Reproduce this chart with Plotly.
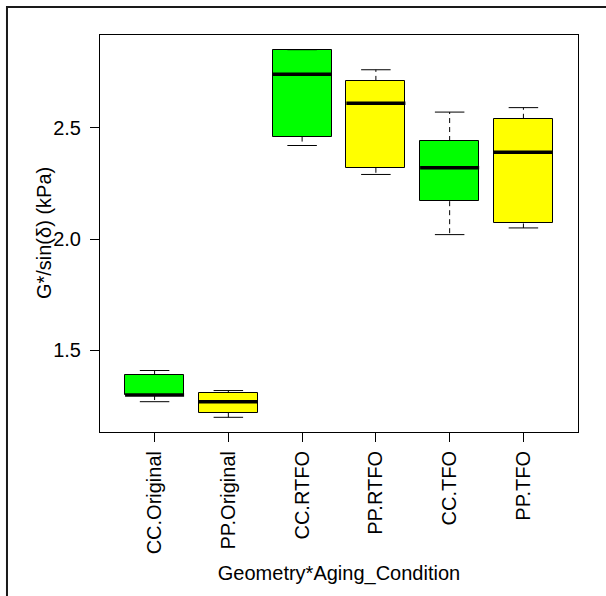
import plotly.graph_objects as go

# Group labels and five-number summaries (kPa)
categories = ["CC.Original", "PP.Original", "CC.RTFO", "PP.RTFO", "CC.TFO", "PP.TFO"]
whisker_low = [1.27, 1.20, 2.42, 2.29, 2.02, 2.05]
q1 = [1.30, 1.22, 2.46, 2.32, 2.17, 2.07]
median = [1.30, 1.27, 2.74, 2.61, 2.32, 2.39]
q3 = [1.39, 1.31, 2.85, 2.71, 2.44, 2.54]
whisker_high = [1.41, 1.32, 2.85, 2.76, 2.57, 2.59]
fill_colors = ["#00FF00", "#FFFF00", "#00FF00", "#FFFF00", "#00FF00", "#FFFF00"]
y_ticks = [1.5, 2.0, 2.5]
y_tick_text = ["1.5", "2.0", "2.5"]

positions = list(range(1, len(categories) + 1))
box_w = 0.8
cap_w = 0.4

FONT = "Liberation Sans, Arial, sans-serif"

fig = go.Figure()

# Boxes (Q1 to Q3)
fig.add_trace(go.Bar(
    x=positions,
    base=q1,
    y=[b - a for a, b in zip(q1, q3)],
    width=box_w,
    marker=dict(color=fill_colors, line=dict(color="black", width=1)),
    hoverinfo="skip",
    showlegend=False,
))

# Dashed whiskers
wx, wy = [], []
for p, lo, a, b, hi in zip(positions, whisker_low, q1, q3, whisker_high):
    wx += [p, p, None, p, p, None]
    wy += [a, lo, None, b, hi, None]
fig.add_trace(go.Scatter(
    x=wx, y=wy, mode="lines",
    line=dict(color="black", width=1, dash="5px,4px"),
    hoverinfo="skip", showlegend=False,
))

# Whisker caps
cx, cy = [], []
for p, lo, hi in zip(positions, whisker_low, whisker_high):
    cx += [p - cap_w / 2, p + cap_w / 2, None, p - cap_w / 2, p + cap_w / 2, None]
    cy += [lo, lo, None, hi, hi, None]
fig.add_trace(go.Scatter(
    x=cx, y=cy, mode="lines",
    line=dict(color="black", width=1),
    hoverinfo="skip", showlegend=False,
))

# Medians
mx, my = [], []
for p, m in zip(positions, median):
    mx += [p - box_w / 2, p + box_w / 2, None]
    my += [m, m, None]
fig.add_trace(go.Scatter(
    x=mx, y=my, mode="lines",
    line=dict(color="black", width=3.5),
    hoverinfo="skip", showlegend=False,
))

# Outer frame around the figure
fig.add_shape(
    type="rect", xref="paper", yref="paper",
    x0=-0.1946, y0=-0.46, x1=1.09, y1=1.0705,
    line=dict(color="#1a1a1a", width=2),
    layer="below",
)

# Y-axis title, placed close to the tick labels
fig.add_annotation(
    text="G*/sin(δ) (kPa)",
    textangle=-90,
    xref="paper", yref="paper",
    x=-0.118, y=0.5,
    xanchor="center", yanchor="middle",
    showarrow=False,
    font=dict(family=FONT, size=20, color="black"),
)

fig.update_layout(
    width=606, height=596,
    margin=dict(l=100, r=28, t=35, b=164),
    paper_bgcolor="white",
    plot_bgcolor="white",
    font=dict(family=FONT, size=20, color="black"),
    bargap=0,
    xaxis=dict(
        range=[0.26, 6.74],
        tickmode="array",
        tickvals=positions,
        ticktext=categories,
        tickangle=-90,
        ticks="outside", ticklen=9, tickcolor="black", tickwidth=1,
        ticklabelstandoff=1,
        showgrid=False, zeroline=False,
        showline=True, mirror=True, linecolor="black", linewidth=1,
        title=dict(text="Geometry*Aging_Condition", standoff=12,
                   font=dict(family=FONT, size=20)),
        automargin=False,
    ),
    yaxis=dict(
        range=[1.134, 2.916],
        tickmode="array",
        tickvals=y_ticks,
        ticktext=y_tick_text,
        ticks="outside", ticklen=9, tickcolor="black", tickwidth=1,
        ticklabelstandoff=5,
        showgrid=False, zeroline=False,
        showline=True, mirror=True, linecolor="black", linewidth=1,
        automargin=False,
    ),
)

fig.write_html("out.html")
